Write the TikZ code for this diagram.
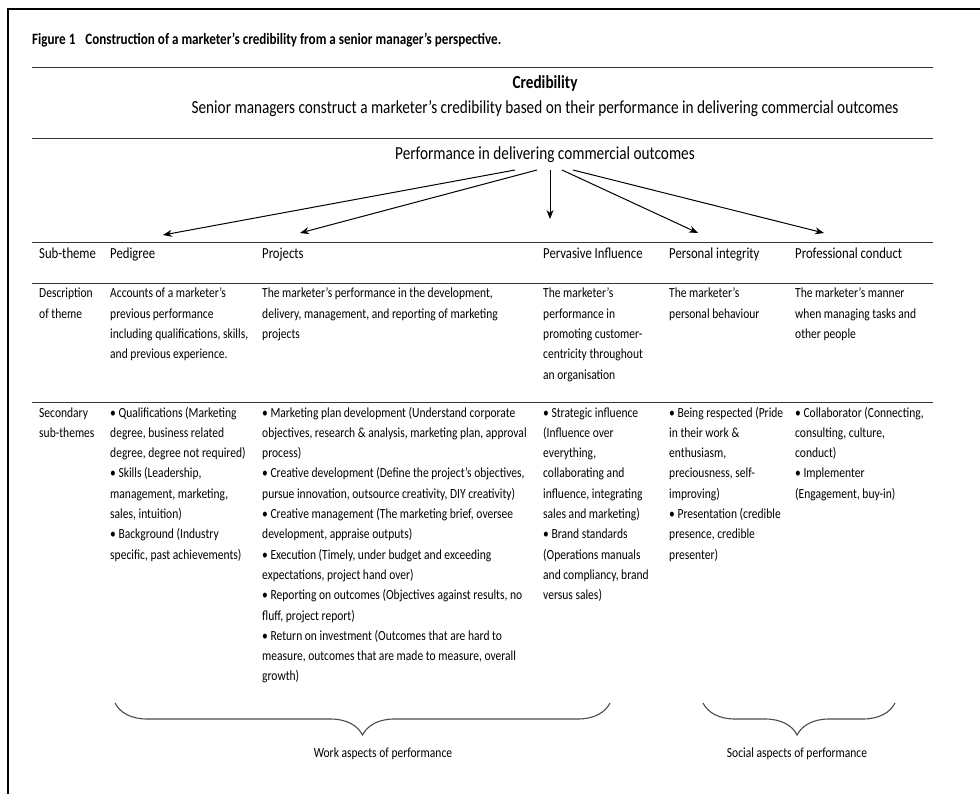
\documentclass[tikz,border=0pt]{standalone}
\usepackage{fontspec}
\setmainfont{Carlito}[FakeStretch=0.83]
\usetikzlibrary{arrows.meta,decorations.pathreplacing}
\newcommand{\bodyfnt}{\fontsize{13.9}{20.3}\selectfont}
\newcommand{\headfnt}{\fontsize{15.3}{20.3}\selectfont}
\newcommand{\cellbox}[2]{\parbox[t]{#1}{\setlength{\baselineskip}{20.3pt}\raggedright #2}}
\begin{document}
\begin{tikzpicture}[x=1pt,y=-1pt,
  tablerule/.style={line width=0.9pt, draw=black!80},
  frameline/.style={line width=2pt, draw=black},
  txt/.style={anchor=base west, inner sep=0pt, font=\bodyfnt},
  headtxt/.style={anchor=base west, inner sep=0pt, font=\headfnt},
  arr/.style={-{Stealth[length=9pt,width=7pt]}, line width=1pt},
  curly/.style={decorate, decoration={brace, mirror, amplitude=32pt, aspect=#1}, line width=1.1pt, draw=black!70},
  bracelbl/.style={anchor=base, inner sep=0pt, font=\fontsize{13.9}{15}\selectfont}]
\useasboundingbox (0,0) rectangle (980,794);
\fill[white] (0,0) rectangle (980,794);
% frame
\draw[frameline] (8,794) -- (8,9) -- (980,9);
% caption
\node[anchor=base west, inner sep=0pt, font=\fontsize{15.8}{18}\selectfont\bfseries] (cap) at (32,45)
  {Figure 1\hspace{7pt} Construction of a marketer’s credibility from a senior manager’s perspective.};
% rules
\draw[tablerule] (32,67) -- (933,67);
\draw[tablerule] (32,138) -- (933,138);
\draw[tablerule] (32,242) -- (933,242);
\draw[tablerule] (32,283) -- (933,283);
\draw[tablerule] (32,402) -- (933,402);
% heading
\node[anchor=base, inner sep=0pt, font=\fontsize{18.4}{20}\selectfont\bfseries] (cred) at (545,89) {Credibility};
\node[anchor=base, inner sep=0pt, font=\fontsize{18.4}{20}\selectfont] (senior) at (545,114)
  {Senior managers construct a marketer’s credibility based on their performance in delivering commercial outcomes};
\node[anchor=base, inner sep=0pt, font=\fontsize{18.4}{20}\selectfont] (perf) at (545,160)
  {Performance in delivering commercial outcomes};
% arrows
\coordinate (s1) at (515,170); \coordinate (e1) at (163,235);
\coordinate (s2) at (537,170); \coordinate (e2) at (300,233);
\coordinate (s3) at (550,170); \coordinate (e3) at (550,219);
\coordinate (s4) at (562,170); \coordinate (e4) at (698,233);
\coordinate (s5) at (573,170); \coordinate (e5) at (824,233);
\draw[arr] (s1) -- (e1);
\draw[arr] (s2) -- (e2);
\draw[arr] (s3) -- (e3);
\draw[arr] (s4) -- (e4);
\draw[arr] (s5) -- (e5);
% sub-theme row
\node[headtxt] (h0) at (39,259) {Sub-theme};
\node[headtxt] (h1) at (110,259) {Pedigree};
\node[headtxt] (h2) at (262,259) {Projects};
\node[headtxt] (h3) at (543,259) {Pervasive Influence};
\node[headtxt] (h4) at (669,259) {Personal integrity};
\node[headtxt] (h5) at (795,259) {Professional conduct};
% description row
\node[txt] (d0) at (39,298) {\cellbox{70pt}{Description\\of theme}};
\node[txt] (d1) at (110,298) {\cellbox{150pt}{Accounts of a marketer’s\\previous performance\\including qualifications, skills,\\and previous experience.}};
\node[txt] (d2) at (262,298) {\cellbox{280pt}{The marketer’s performance in the development,\\delivery, management, and reporting of marketing\\projects}};
\node[txt] (d3) at (543,298) {\cellbox{120pt}{The marketer’s\\performance in\\promoting customer-\\centricity throughout\\an organisation}};
\node[txt] (d4) at (669,298) {\cellbox{120pt}{The marketer’s\\personal behaviour}};
\node[txt] (d5) at (795,298) {\cellbox{130pt}{The marketer’s manner\\when managing tasks and\\other people}};
% secondary row
\node[txt] (c0) at (39,417) {\cellbox{70pt}{Secondary\\sub-themes}};
\node[txt] (c1) at (110,417) {\cellbox{150pt}{• Qualifications (Marketing\\degree, business related\\degree, degree not required)\\• Skills (Leadership,\\management, marketing,\\sales, intuition)\\• Background (Industry\\specific, past achievements)}};
\node[txt] (c2) at (262,417) {\cellbox{280pt}{• Marketing plan development (Understand corporate\\objectives, research \& analysis, marketing plan, approval\\process)\\• Creative development (Define the project’s objectives,\\pursue innovation, outsource creativity, DIY creativity)\\• Creative management (The marketing brief, oversee\\development, appraise outputs)\\• Execution (Timely, under budget and exceeding\\expectations, project hand over)\\• Reporting on outcomes (Objectives against results, no\\fluff, project report)\\• Return on investment (Outcomes that are hard to\\measure, outcomes that are made to measure, overall\\growth)}};
\node[txt] (c3) at (543,417) {\cellbox{120pt}{• Strategic influence\\(Influence over\\everything,\\collaborating and\\influence, integrating\\sales and marketing)\\• Brand standards\\(Operations manuals\\and compliancy, brand\\versus sales)}};
\node[txt] (c4) at (669,417) {\cellbox{120pt}{• Being respected (Pride\\in their work \&\\enthusiasm,\\preciousness, self-\\improving)\\• Presentation (credible\\presence, credible\\presenter)}};
\node[txt] (c5) at (795,417) {\cellbox{130pt}{• Collaborator (Connecting,\\consulting, culture,\\conduct)\\• Implementer\\(Engagement, buy-in)}};
% braces
\coordinate (w1) at (115,703); \coordinate (w2) at (610,703);
\coordinate (p1) at (703,703); \coordinate (p2) at (895,703);
\draw[curly=0.5] (w1) -- (w2);
\draw[curly=0.49] (p1) -- (p2);
\node[bracelbl] (wl) at (383,757) {Work aspects of performance};
\node[bracelbl] (sl) at (797,757) {Social aspects of performance};
\end{tikzpicture}
\end{document}
